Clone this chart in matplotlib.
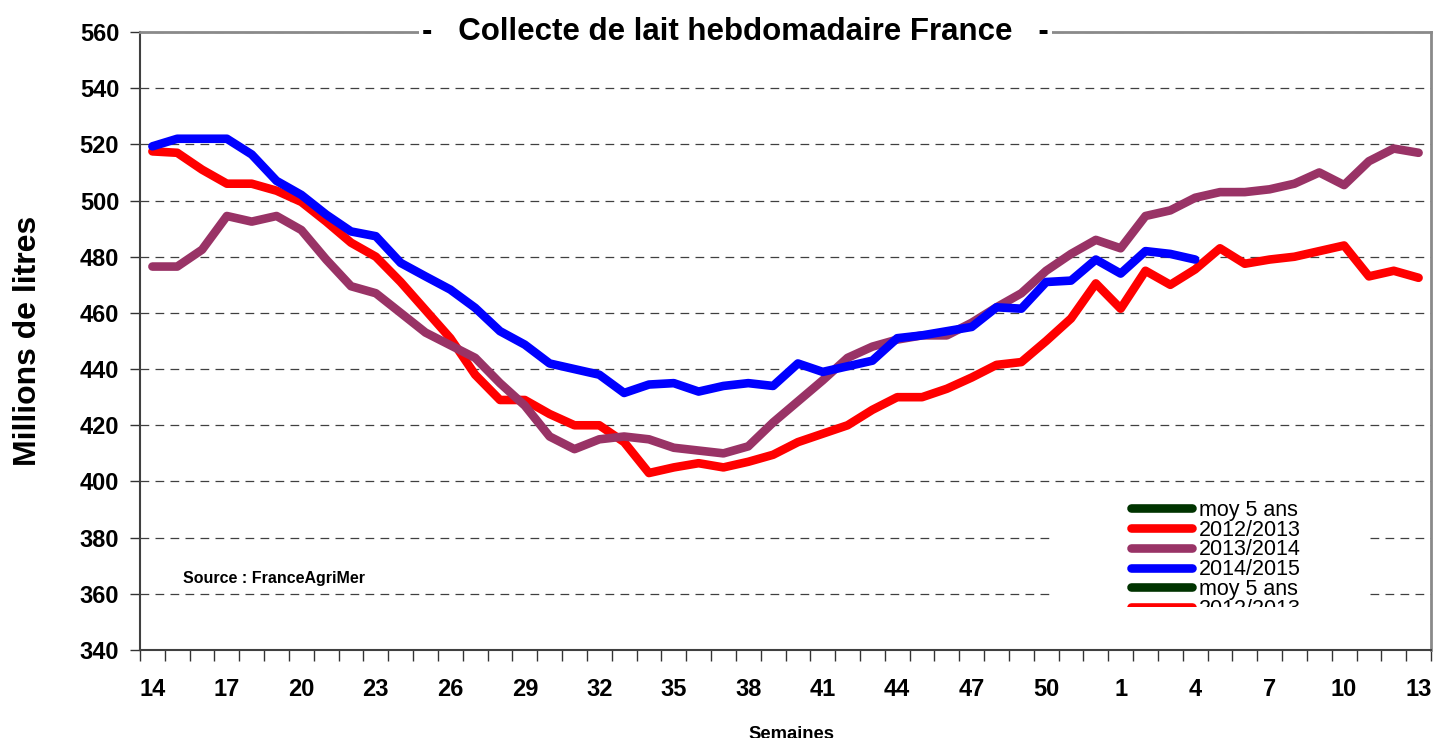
import matplotlib
matplotlib.use('Agg')
import matplotlib.pyplot as plt
import numpy as np
from matplotlib.patches import Rectangle

plt.rcParams['font.family'] = ['Liberation Sans', 'DejaVu Sans']

# ---------------- data ----------------
weeks = list(range(14, 53)) + list(range(1, 14))

serie_2012_2013 = [517.5, 517, 511, 506, 506, 503.5, 499.5, 492.5, 485, 480, 471, 461, 451,
                   438, 429, 429, 424, 420, 420, 414, 403, 405, 406.5, 405, 407, 409.5,
                   414, 417, 420, 425.5, 430, 430, 433, 437, 441.5, 442.5, 450, 458, 470.5,
                   461.5, 475, 470, 475.5, 483, 477.5, 479, 480, 482, 484, 473, 475, 472.5]

serie_2013_2014 = [476.5, 476.5, 482.5, 494.5, 492.5, 494.5, 489.5, 479, 469.5, 467, 460, 453,
                   448.5, 444, 435, 427, 416, 411.5, 415, 416, 415, 412, 411, 410, 412.5,
                   421, 428.5, 436, 444, 448, 450.5, 452, 452, 456.5, 462, 467, 475, 481,
                   486, 483, 494.5, 496.5, 501, 503, 503, 504, 506, 510, 505.5, 514, 518.5, 517]

serie_2014_2015 = [519.3, 522, 522, 522, 516.4, 507, 502, 495, 489, 487.3, 477.8, 473, 468.3,
                   461.8, 453.5, 448.7, 442, 440, 438, 431.5, 434.5, 435, 432, 434, 435, 434,
                   442, 439, 441, 443, 451, 452, 453.5, 455, 462, 461.5, 471, 471.5, 479,
                   474, 482, 481, 479]

serie_moy5 = []  # present only in the legend

labels = ['moy 5 ans', '2012/2013', '2013/2014', '2014/2015']
colors = ['#003300', '#FF0000', '#993366', '#0000FF']

# ---------------- figure ----------------
W, H = 1436, 738
fig = plt.figure(figsize=(W / 100, H / 100), dpi=100)
ax = fig.add_axes([140 / W, 88 / H, 1291 / W, 618 / H])

x = np.arange(len(weeks))
lw = 6.2
handles = []
for vals, lab, col in zip([serie_moy5, serie_2012_2013, serie_2013_2014, serie_2014_2015],
                          labels, colors):
    (h,) = ax.plot(x[:len(vals)], vals, color=col, lw=lw, label=lab,
                   solid_capstyle='round', solid_joinstyle='round', zorder=2)
    handles.append(h)

ax.set_xlim(-0.5, len(weeks) - 0.5)
ax.set_ylim(340, 560)

# y axis
ax.set_yticks(np.arange(340, 561, 20))
ax.tick_params(axis='y', which='major', length=7, width=1, color='#333333',
               labelsize=17, pad=8, direction='out')
for t in ax.get_yticklabels():
    t.set_fontweight('bold')
ax.set_axisbelow(True)
ax.yaxis.grid(True, linestyle=(0, (7, 5)), color='#404040', lw=0.9)

# x axis: ticks between categories, labels every 3 weeks
ax.set_xticks(np.arange(-0.5, len(weeks), 1))
ax.set_xticklabels([])
ax.set_xticks(x[::3], minor=True)
ax.set_xticklabels([str(w) for w in weeks[::3]], minor=True)
ax.tick_params(axis='x', which='major', length=8, width=1, color='#333333', direction='out')
ax.tick_params(axis='x', which='minor', length=0, labelsize=17, pad=20)
for t in ax.get_xticklabels(minor=True):
    t.set_fontweight('bold')

# spines
for s in ['left', 'bottom']:
    ax.spines[s].set_color('#404040')
    ax.spines[s].set_linewidth(1.5)
for s in ['top', 'right']:
    ax.spines[s].set_color('#8a8a8a')
    ax.spines[s].set_linewidth(2)

# labels
ax.set_ylabel('Millions de litres', fontsize=23, fontweight='bold', va='center')
ax.yaxis.set_label_coords(-0.0868, 0.5)
ax.set_xlabel('Semaines', fontsize=13.3, fontweight='bold')
ax.xaxis.set_label_coords(0.5047, -0.1227)

ax.text(0.0333, 0.1084, 'Source : FranceAgriMer', transform=ax.transAxes,
        fontsize=11.5, fontweight='bold', va='baseline', ha='left')

# title sitting on the top border
fig.text(735 / W, 1 - 40 / H, '-   Collecte de lait hebdomadaire France   -',
         ha='center', va='baseline', fontsize=22.5, fontweight='bold',
         bbox=dict(facecolor='white', edgecolor='none', boxstyle='square,pad=0.1'),
         zorder=10)

# legend (white background, bottom clipped as in the original)
ax.add_patch(Rectangle((0.7088, 0.0696), 0.9528 - 0.7088, 0.2508 - 0.0696,
                       transform=ax.transAxes, facecolor='white', edgecolor='none',
                       zorder=1.5))
leg_handles = handles + handles[:2]
leg_labels = labels + labels[:2]
leg = ax.legend(leg_handles, leg_labels, loc='upper left',
                bbox_to_anchor=(1131 / W, 1 - 500 / H), bbox_transform=fig.transFigure,
                frameon=False, fontsize=15.5, handlelength=2.85, handletextpad=0.3,
                labelspacing=-0.06, borderpad=0, borderaxespad=0)
leg.set_zorder(5)
ax.add_patch(Rectangle((0.7088, 0.0081), 0.9528 - 0.7088, 0.0696 - 0.0081,
                       transform=ax.transAxes, facecolor='white', edgecolor='none',
                       zorder=6))

fig.savefig('out.png', dpi=100)
